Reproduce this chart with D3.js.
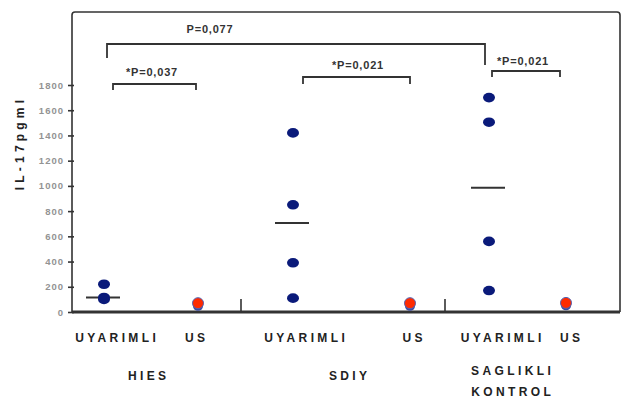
<!DOCTYPE html>
<html>
<head>
<meta charset="utf-8">
<script src="https://cdn.jsdelivr.net/npm/d3@7"></script>
<style>
  body { margin: 0; background: #fff; }
  text { font-family: "Liberation Sans", Arial, sans-serif; font-weight: bold; }
</style>
</head>
<body>
<svg id="chart" width="626" height="399"></svg>
<script>
// groups along the x axis
var columns = ["HIES_U", "HIES_US", "SDIY_U", "SDIY_US", "SK_U", "SK_US"];
var columnLabels = ["UYARIMLI", "US", "UYARIMLI", "US", "UYARIMLI", "US"];
var groupNames = [["HIES"], ["SDIY"], ["SAGLIKLI", "KONTROL"]];

// IL-17 values
var stimulated = {
  HIES_U: [220, 115, 100],
  SDIY_U: [1420, 850, 390, 110],
  SK_U:   [1700, 1505, 560, 170]
};
var unstimulated = {
  HIES_US: [45, 70],
  SDIY_US: [45, 70],
  SK_US:   [50, 72]
};
var medians = [
  { col: "HIES_U", v: 115 },
  { col: "SDIY_U", v: 705 },
  { col: "SK_U",   v: 985 }
];
var yTicks = [0, 200, 400, 600, 800, 1000, 1200, 1400, 1600, 1800];
var pvalues = [
  { a: "HIES_U", b: "SK_U",    label: "P=0,077" },
  { a: "HIES_U", b: "HIES_US", label: "*P=0,037" },
  { a: "SDIY_U", b: "SDIY_US", label: "*P=0,021" },
  { a: "SK_U",   b: "SK_US",   label: "*P=0,021" }
];

var svg = d3.select("#chart");
var mLeft = 72, mRight = 620, mTop = 12, mBottom = 312;

var y = d3.scaleLinear().domain([0, 1800]).range([mBottom, 85]);
var x = d3.scaleOrdinal().domain(columns).range([104, 198, 293, 410, 489, 566]);

// frame
svg.append("path")
  .attr("d", "M" + mLeft + "," + mBottom + "V" + (mTop + 3) + "Q" + mLeft + "," + mTop + " " + (mLeft + 3) + "," + mTop +
             "H" + (mRight - 3) + "Q" + mRight + "," + mTop + " " + mRight + "," + (mTop + 3) + "V" + mBottom)
  .attr("fill", "none").attr("stroke", "#333").attr("stroke-width", 1.6);

// y axis ticks
var yAxis = d3.axisLeft(y).tickValues(yTicks).tickFormat(d3.format("d")).tickSize(4).tickPadding(4);
var ga = svg.append("g").attr("transform", "translate(" + mLeft + ",0)").call(yAxis);
ga.select(".domain").remove();
ga.selectAll("line").attr("stroke", "#333").attr("stroke-width", 1.6).attr("x2", 2).attr("x1", -4);
ga.selectAll("text").attr("fill", "#939393").attr("font-size", 9.5).attr("font-family", "Liberation Sans, Arial")
  .attr("font-weight", "bold").style("letter-spacing", "1px");

// x axis
svg.append("line").attr("x1", mLeft).attr("x2", mRight).attr("y1", mBottom).attr("y2", mBottom)
  .attr("stroke", "#333").attr("stroke-width", 3);
[241, 445].forEach(function(sx) {
  svg.append("line").attr("x1", sx).attr("x2", sx).attr("y1", mBottom).attr("y2", mBottom - 13)
    .attr("stroke", "#333").attr("stroke-width", 1.6);
});

// y label
svg.append("text").attr("transform", "translate(24,143) rotate(-90)")
  .attr("text-anchor", "middle").attr("font-size", 12).attr("fill", "#222")
  .style("letter-spacing", "4.2px").text("IL-17pgml");

// medians
svg.selectAll(".med").data(medians).enter().append("line")
  .attr("x1", function(d) { return x(d.col) - 18; })
  .attr("x2", function(d) { return x(d.col) + 16; })
  .attr("y1", function(d) { return y(d.v); })
  .attr("y2", function(d) { return y(d.v); })
  .attr("stroke", "#333").attr("stroke-width", 2);

// stimulated dots
var blue = [];
Object.keys(stimulated).forEach(function(k) { stimulated[k].forEach(function(v) { blue.push({ col: k, v: v }); }); });
svg.selectAll(".dot").data(blue).enter().append("ellipse")
  .attr("cx", function(d) { return x(d.col); })
  .attr("cy", function(d) { return y(d.v); })
  .attr("rx", 6).attr("ry", 4.8)
  .attr("fill", "#0a1a7a");

// unstimulated dots: a blue one beneath a red one
Object.keys(unstimulated).forEach(function(k) {
  var vals = unstimulated[k];
  svg.append("ellipse").attr("cx", x(k)).attr("cy", y(vals[0])).attr("rx", 5).attr("ry", 4.5).attr("fill", "#3a4aa0");
  svg.append("circle").attr("cx", x(k)).attr("cy", y(vals[1])).attr("r", 5.5)
    .attr("fill", "#ff2a00").attr("stroke", "#5560b0").attr("stroke-width", 1);
});

// significance brackets
var bracketLayout = [
  { x1: 107, x2: 485, yb: 44, l1: 14, l2: 21, tx: 210, ty: 33 },
  { x1: 113, x2: 196, yb: 84, l1: 6, l2: 6, tx: 152, ty: 76 },
  { x1: 303, x2: 410, yb: 77, l1: 7, l2: 7, tx: 358, ty: 69 },
  { x1: 492, x2: 560, yb: 71, l1: 6, l2: 6, tx: 523, ty: 65 }
];
pvalues.forEach(function(p, i) {
  var b = bracketLayout[i];
  svg.append("path")
    .attr("d", "M" + b.x1 + "," + (b.yb + b.l1) + "V" + b.yb + "H" + b.x2 + "V" + (b.yb + b.l2))
    .attr("fill", "none").attr("stroke", "#333").attr("stroke-width", 1.8);
  svg.append("text").attr("x", b.tx).attr("y", b.ty).attr("text-anchor", "middle")
    .attr("font-size", 11).attr("fill", "#333").style("letter-spacing", "0.8px").text(p.label);
});

// category labels
var labelCenter = [115.5, 195, 304.5, 412.5, 501, 570];
svg.selectAll(".cl").data(columns).enter().append("text")
  .attr("x", function(d, i) { return labelCenter[i] + 1.7; })
  .attr("y", 342)
  .attr("text-anchor", "middle").attr("font-size", 12).attr("fill", "#222")
  .style("letter-spacing", "3.4px")
  .text(function(d, i) { return columnLabels[i]; });

var groupX = [147, 348, 511];
groupNames.forEach(function(g, i) {
  g.forEach(function(line, j) {
    svg.append("text").attr("x", groupX[i] + 1.7).attr("y", (g.length > 1 ? 375 : 380) + j * 21)
      .attr("text-anchor", "middle").attr("font-size", 12).attr("fill", "#222")
      .style("letter-spacing", "3.4px").text(line);
  });
});
</script>
</body>
</html>
